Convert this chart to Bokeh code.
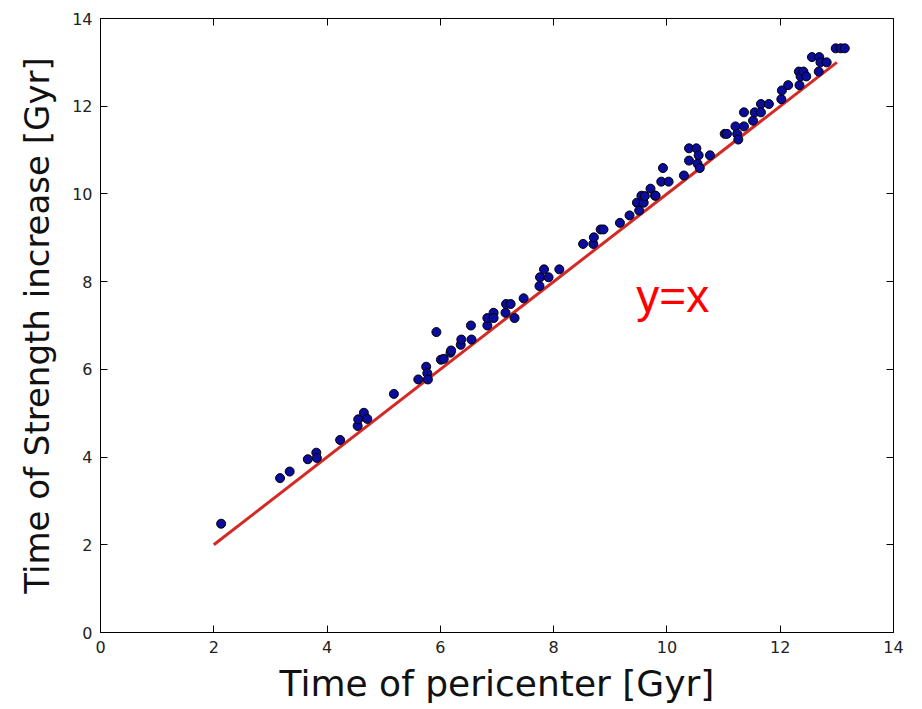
from bokeh.plotting import figure
from bokeh.models import LinearAxis, Range1d, FixedTicker, CustomJSTickFormatter, ColumnDataSource
from bokeh.core.properties import value
from bokeh.embed import file_html
from bokeh.resources import INLINE

# Data
t_pericenter = [2.13, 3.17, 3.34, 3.66, 3.81, 3.82, 4.23, 4.54, 4.55, 4.65, 4.71, 5.18,
                5.61, 5.75, 5.77, 5.78, 5.93, 6.01, 6.06, 6.18, 6.19, 6.36, 6.37, 6.54,
                6.55, 6.83, 6.83, 6.94, 6.94, 7.15, 7.16, 7.24, 7.31, 7.47, 7.75, 7.76,
                7.83, 7.91, 8.10, 8.52, 8.70, 8.71, 8.83, 8.88, 9.17, 9.34, 9.47, 9.51,
                9.55, 9.59, 9.61, 9.71, 9.79, 9.80, 9.90, 9.93, 10.03, 10.30, 10.39, 10.39,
                10.52, 10.54, 10.56, 10.58, 10.76, 11.02, 11.06, 11.21, 11.24, 11.26, 11.36,
                11.36, 11.52, 11.55, 11.66, 11.66, 11.80, 12.02, 12.03, 12.14, 12.33, 12.34,
                12.36, 12.41, 12.46, 12.56, 12.68, 12.69, 12.71, 12.82, 12.98, 13.07, 13.14]
t_strength = [2.48, 3.52, 3.67, 3.95, 4.10, 3.98, 4.39, 4.71, 4.86, 5.01, 4.87, 5.44,
              5.77, 6.06, 5.91, 5.77, 6.85, 6.22, 6.24, 6.38, 6.43, 6.56, 6.68, 7.00,
              6.68, 7.00, 7.17, 7.29, 7.17, 7.29, 7.49, 7.49, 7.17, 7.62, 7.90, 8.10,
              8.28, 8.10, 8.28, 8.86, 8.86, 9.01, 9.19, 9.19, 9.34, 9.51, 9.80, 9.62,
              9.96, 9.80, 9.95, 10.12, 9.96, 9.96, 10.28, 10.59, 10.28, 10.42, 11.04, 10.76,
              11.04, 10.69, 10.88, 10.59, 10.88, 11.37, 11.37, 11.54, 11.37, 11.24, 11.54,
              11.86, 11.67, 11.86, 12.05, 11.86, 12.05, 12.16, 12.36, 12.48, 12.79, 12.48,
              12.68, 12.79, 12.68, 13.12, 12.79, 13.12, 13.00, 13.00, 13.32, 13.32, 13.32]
line_x = [2, 13]
line_y = [2, 13]
ticks = [0, 2, 4, 6, 8, 10, 12, 14]

p = figure(width=922, height=709, output_backend="svg", toolbar_location=None,
           x_range=Range1d(0, 14), y_range=Range1d(0, 14),
           min_border_left=100, min_border_right=29, min_border_top=18, min_border_bottom=77)
p.grid.visible = False
p.outline_line_color = "black"
p.outline_line_width = 1
p.background_fill_color = "white"
p.border_fill_color = "white"

p.line(line_x, line_y, line_color="#d42a25", line_width=3)
src = ColumnDataSource(dict(x=t_pericenter, y=t_strength))
p.scatter("x", "y", source=src, size=9, fill_color="#0c0c9c", line_color="black", line_width=1)

p.text(x=[9.46], y=[7.68], text=["y=x"], text_color="red", text_font=value("Liberation Sans"),
       text_font_size="46px", text_baseline="alphabetic", text_align="left")

for ax in (p.xaxis[0], p.yaxis[0]):
    ax.ticker = FixedTicker(ticks=ticks)
    ax.major_tick_in = 7
    ax.major_tick_out = 0
    ax.minor_tick_line_color = None
    ax.axis_line_color = None
    ax.major_label_text_font = "DejaVu Sans"
    ax.major_label_text_font_size = "16px"
    ax.major_label_text_color = "#222222"
    ax.axis_label_text_font = "DejaVu Sans"
    ax.axis_label_text_font_style = "normal"
    ax.axis_label_text_color = "#111111"
    ax.major_label_standoff = 8

p.xaxis[0].axis_label = "Time of pericenter [Gyr]"
p.yaxis[0].axis_label = "Time of Strength increase [Gyr]"
p.xaxis[0].axis_label_text_font_size = "36px"
p.yaxis[0].axis_label_text_font_size = "34px"
p.xaxis[0].axis_label_standoff = 7
p.yaxis[0].axis_label_standoff = 12

for loc in ("above", "right"):
    ax = LinearAxis(ticker=FixedTicker(ticks=ticks),
                    formatter=CustomJSTickFormatter(code="return ''"))
    ax.major_tick_in = 7
    ax.major_tick_out = 0
    ax.minor_tick_line_color = None
    ax.axis_line_color = None
    ax.major_label_text_font_size = "0px"
    ax.major_label_standoff = 0
    p.add_layout(ax, loc)

open("out.html", "w").write(file_html(p, INLINE))
